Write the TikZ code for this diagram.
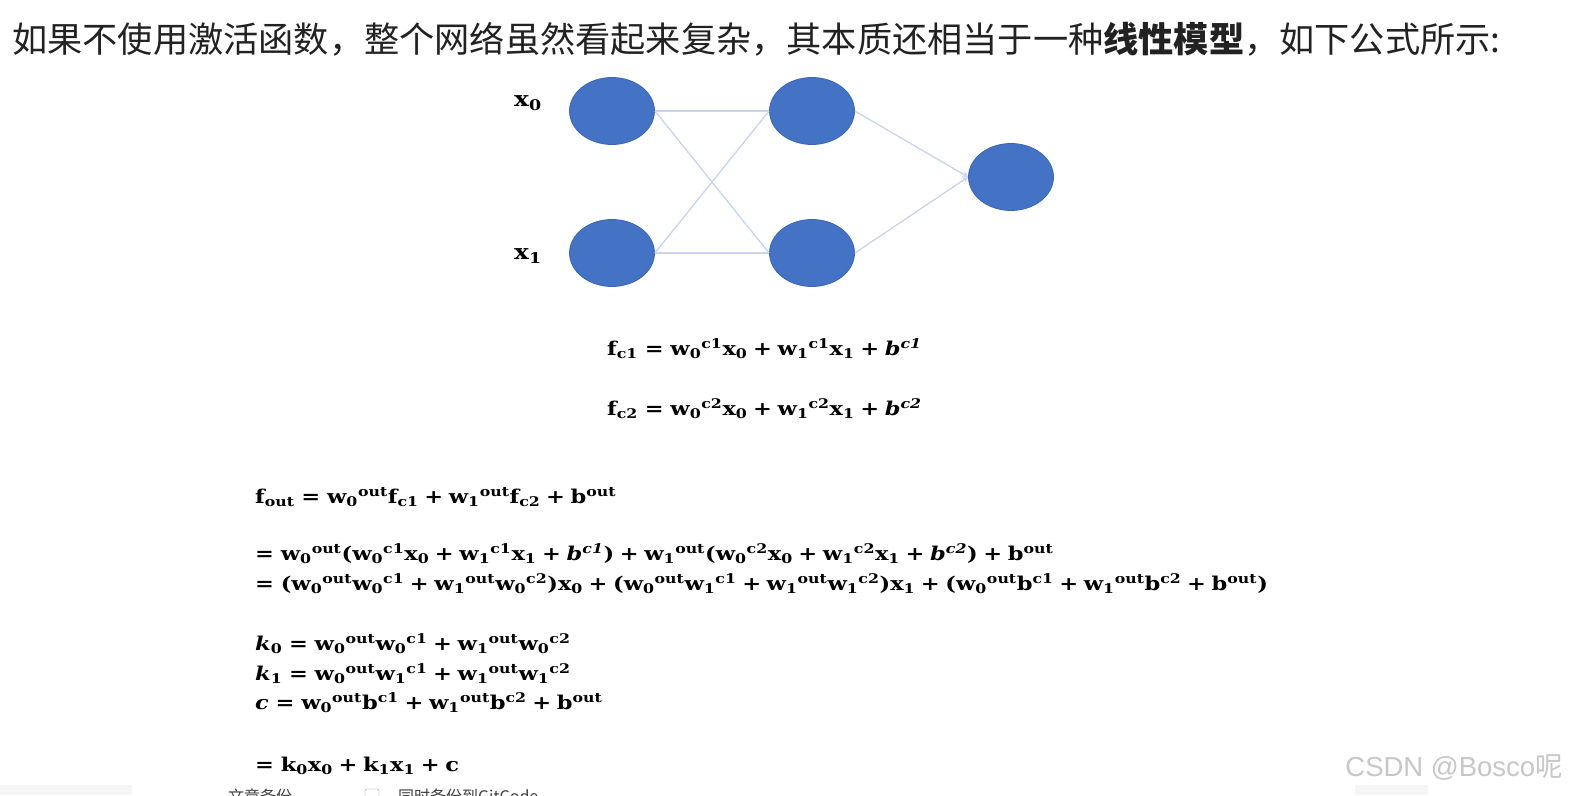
\documentclass[tikz,border=0pt]{standalone}
\usepackage{graphicx}
\usepackage{fontspec}
\setmainfont{DejaVu Serif}
\newfontfamily\cjk{Noto Sans CJK SC}
\newfontfamily\wm{Liberation Sans}
\usetikzlibrary{arrows.meta,shapes.geometric}
\definecolor{nodeblue}{HTML}{4472C4}
\definecolor{nodeedge}{HTML}{3B66B5}
\definecolor{linkblue}{HTML}{C8D5EC}
\definecolor{headtxt}{HTML}{222222}
\newcommand\wsb[3]{#1\textsubscript{#2}\textsuperscript{#3}}
\newcommand\sub[2]{#1\textsubscript{#2}}
\newcommand\sups[2]{#1\textsuperscript{#2}}
\newcommand\eqs{\hspace{0.3em}=\hspace{0.3em}}
\newcommand\pls{\hspace{0.25em}+\hspace{0.25em}}
\newcommand\wide[1]{\scalebox{1.185}[1]{#1}}
\begin{document}
\begin{tikzpicture}[x=1pt,y=-1pt,
  neuron/.style={ellipse,fill=nodeblue,draw=nodeedge,line width=0.8pt,minimum width=85pt,minimum height=67pt,inner sep=0pt},
  link/.style={draw=linkblue,line width=1.3pt},
  eq/.style={anchor=base west,inner sep=0pt,font=\fontsize{19}{22}\selectfont\bfseries},
  lab/.style={anchor=center,inner sep=0pt,font=\fontsize{21}{24}\selectfont\bfseries}]
\useasboundingbox (0,0) rectangle (1571,795);
\fill[white] (0,0) rectangle (1571,795);
% heading
\node[anchor=base west,inner sep=0pt,text=headtxt,font=\cjk\fontsize{35.2}{40}\selectfont] (head) at (12,52)
  {如果不使用激活函数，整个网络虽然看起来复杂，其本质还相当于一种{\bfseries 线性模型}，如下公式所示:};
% network
\node[neuron] (x0) at (612,111) {};
\node[neuron] (x1) at (612,253) {};
\node[neuron] (h1) at (812,111) {};
\node[neuron] (h2) at (812,253) {};
\node[neuron] (out) at (1011,177) {};
\node[lab] (lx0) at (528,103) {\wide{\sub{x}{0}}};
\node[lab] (lx1) at (528,256) {\wide{\sub{x}{1}}};
\draw[link] (x0.east) -- (h1.west);
\draw[link] (x0.east) -- (h2.west);
\draw[link] (x1.east) -- (h1.west);
\draw[link] (x1.east) -- (h2.west);
\draw[link,-{Stealth[length=6pt,width=6pt]}] (h1.east) -- (out.west);
\draw[link,-{Stealth[length=6pt,width=6pt]}] (h2.east) -- (out.west);
% equations
\node[eq] (e1) at (607,355) {\wide{\sub{f}{c1}\eqs\wsb{w}{0}{c1}\sub{x}{0}\pls\wsb{w}{1}{c1}\sub{x}{1}\pls\sups{\textit{b}}{\textit{c1}}}};
\node[eq] (e2) at (607,415) {\wide{\sub{f}{c2}\eqs\wsb{w}{0}{c2}\sub{x}{0}\pls\wsb{w}{1}{c2}\sub{x}{1}\pls\sups{\textit{b}}{\textit{c2}}}};
\node[eq] (e3) at (255,503) {\wide{\sub{f}{out}\eqs\wsb{w}{0}{out}\sub{f}{c1}\pls\wsb{w}{1}{out}\sub{f}{c2}\pls\sups{b}{out}}};
\node[eq] (e4) at (255,560) {\wide{=\hspace{0.3em}\wsb{w}{0}{out}(\wsb{w}{0}{c1}\sub{x}{0}\pls\wsb{w}{1}{c1}\sub{x}{1}\pls\sups{\textit{b}}{\textit{c1}})\pls\wsb{w}{1}{out}(\wsb{w}{0}{c2}\sub{x}{0}\pls\wsb{w}{1}{c2}\sub{x}{1}\pls\sups{\textit{b}}{\textit{c2}})\pls\sups{b}{out}}};
\node[eq] (e5) at (255,590) {\wide{=\hspace{0.3em}(\wsb{w}{0}{out}\wsb{w}{0}{c1}\pls\wsb{w}{1}{out}\wsb{w}{0}{c2})\sub{x}{0}\pls(\wsb{w}{0}{out}\wsb{w}{1}{c1}\pls\wsb{w}{1}{out}\wsb{w}{1}{c2})\sub{x}{1}\pls(\wsb{w}{0}{out}\sups{b}{c1}\pls\wsb{w}{1}{out}\sups{b}{c2}\pls\sups{b}{out})}};
\node[eq] (e6) at (255,650) {\wide{\sub{\textit{k}}{0}\eqs\wsb{w}{0}{out}\wsb{w}{0}{c1}\pls\wsb{w}{1}{out}\wsb{w}{0}{c2}}};
\node[eq] (e7) at (255,680) {\wide{\sub{\textit{k}}{1}\eqs\wsb{w}{0}{out}\wsb{w}{1}{c1}\pls\wsb{w}{1}{out}\wsb{w}{1}{c2}}};
\node[eq] (e8) at (255,709) {\wide{\textit{c}\eqs\wsb{w}{0}{out}\sups{b}{c1}\pls\wsb{w}{1}{out}\sups{b}{c2}\pls\sups{b}{out}}};
\node[eq] (e9) at (255,771) {\wide{=\hspace{0.3em}\sub{k}{0}\sub{x}{0}\pls\sub{k}{1}\sub{x}{1}\pls c}};
% watermark
\node[anchor=base east,inner sep=0pt,text=black!22,font=\wm\fontsize{27.5}{30}\selectfont] (wmk) at (1563,776) {CSDN @Bosco{\cjk 呢}};
% bottom strip
\fill[black!4] (0,785) rectangle (132,795);
\fill[black!4] (1355,785) rectangle (1428,795);
\begin{scope}
\clip (0,0) rectangle (1571,795);
\node[anchor=base west,inner sep=0pt,text=black!75,font=\cjk\fontsize{16}{18}\selectfont] (bk1) at (228,802) {文章备份};
\node[draw=black!40,minimum size=14pt,inner sep=0pt,rounded corners=2pt] (cb) at (372,796) {};
\node[anchor=base west,inner sep=0pt,text=black!75,font=\cjk\fontsize{16}{18}\selectfont] (bk2) at (398,802) {同时备份到GitCode};
\end{scope}
\end{tikzpicture}
\end{document}
